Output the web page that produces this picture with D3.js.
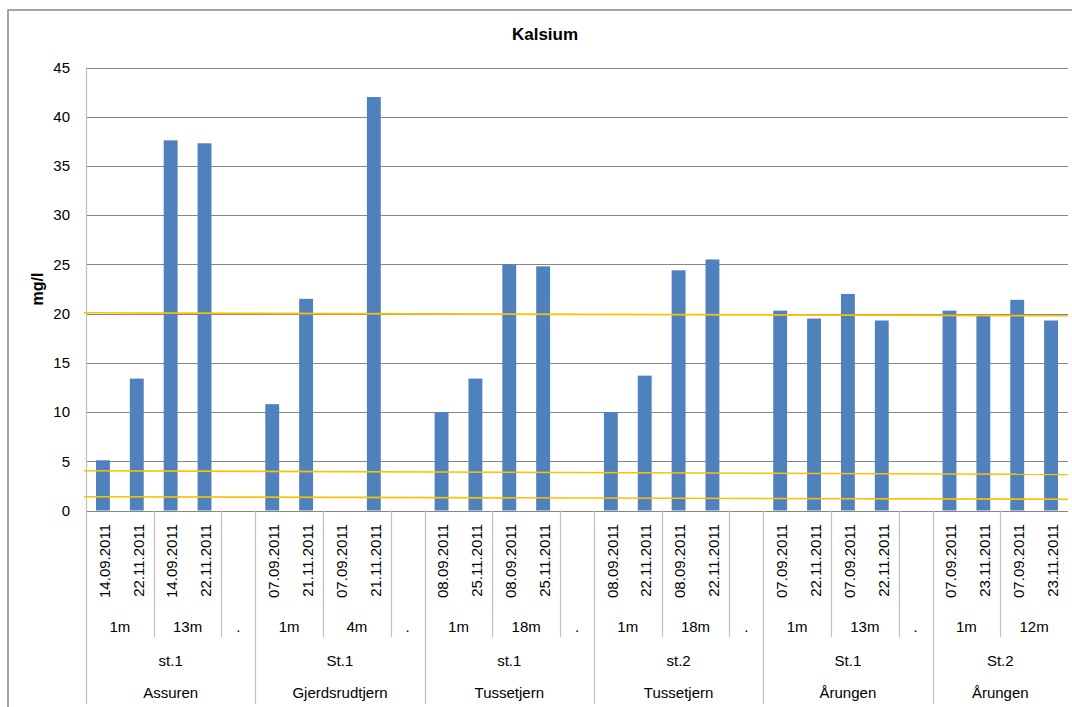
<!DOCTYPE html>
<html>
<head>
<meta charset="utf-8">
<script src="https://cdn.jsdelivr.net/npm/d3@7"></script>
<style>
  body { margin: 0; background: #fff; }
  svg { display: block; }
  text { font-family: "Liberation Sans", Arial, sans-serif; fill: #000; }
</style>
</head>
<body>
<svg id="chart" width="1072" height="707"></svg>
<script>
// ---- data ----
const dates = [
  "14.09.2011","22.11.2011","14.09.2011","22.11.2011","",
  "07.09.2011","21.11.2011","07.09.2011","21.11.2011","",
  "08.09.2011","25.11.2011","08.09.2011","25.11.2011","",
  "08.09.2011","22.11.2011","08.09.2011","22.11.2011","",
  "07.09.2011","22.11.2011","07.09.2011","22.11.2011","",
  "07.09.2011","23.11.2011","07.09.2011","23.11.2011"
];
const depths = [
  "1m","1m","13m","13m",".",
  "1m","1m","4m","4m",".",
  "1m","1m","18m","18m",".",
  "1m","1m","18m","18m",".",
  "1m","1m","13m","13m",".",
  "1m","1m","12m","12m"
];
const stations = [
  "st.1","st.1","st.1","st.1","st.1",
  "St.1","St.1","St.1","St.1","St.1",
  "st.1","st.1","st.1","st.1","st.1",
  "st.2","st.2","st.2","st.2","st.2",
  "St.1","St.1","St.1","St.1","St.1",
  "St.2","St.2","St.2","St.2"
];
const lakes = [
  "Assuren","Assuren","Assuren","Assuren","Assuren",
  "Gjerdsrudtjern","Gjerdsrudtjern","Gjerdsrudtjern","Gjerdsrudtjern","Gjerdsrudtjern",
  "Tussetjern","Tussetjern","Tussetjern","Tussetjern","Tussetjern",
  "Tussetjern","Tussetjern","Tussetjern","Tussetjern","Tussetjern",
  "Årungen","Årungen","Årungen","Årungen","Årungen",
  "Årungen","Årungen","Årungen","Årungen"
];
// station group id per slot (station+lake block)
const groupIds = [
  0,0,0,0,0, 1,1,1,1,1, 2,2,2,2,2, 3,3,3,3,3, 4,4,4,4,4, 5,5,5,5
];
const values = [
  5.1, 13.4, 37.6, 37.3, null,
  10.8, 21.5, null, 42.0, null,
  10.0, 13.4, 25.0, 24.8, null,
  10.0, 13.7, 24.4, 25.5, null,
  20.3, 19.5, 22.0, 19.3, null,
  20.3, 19.8, 21.4, 19.3
];
// reference lines: value at left edge and at right edge of plot
const refLineStart = [20.08, 4.04, 1.40];
const refLineEnd   = [19.78, 3.67, 1.14];
const yTicks = [0,5,10,15,20,25,30,35,40,45];
const title = "Kalsium";
const yTitle = "mg/l";

// ---- layout ----
const svg = d3.select("#chart");
const pLeft = 86, pRight = 1068, pTop = 67.5, pBottom = 510.5;
const n = dates.length;
const idx = d3.range(n);

const x = d3.scaleBand().domain(idx).range([pLeft, pRight]).paddingInner(0).paddingOuter(0);
const xLin = d3.scaleLinear().domain([0, n]).range([pLeft, pRight]);
const y = d3.scaleLinear().domain([0, 45]).range([pBottom, pTop]);

// outer border
svg.append("rect").attr("x", 8).attr("y", 10).attr("width", 1200).attr("height", 800)
  .attr("fill", "none").attr("stroke", "#868686").attr("stroke-width", 1.5);

// gridlines
svg.append("g").selectAll("line").data(yTicks).join("line")
  .attr("x1", pLeft).attr("x2", pRight)
  .attr("y1", d => Math.round(y(d)) + 0.5).attr("y2", d => Math.round(y(d)) + 0.5)
  .attr("stroke", "#868686").attr("stroke-width", 1);

// y axis labels
const yAxis = d3.axisLeft(y).tickValues(yTicks).tickSize(0).tickPadding(16);
const yg = svg.append("g").attr("transform", `translate(${pLeft},0)`).call(yAxis);
yg.select(".domain").remove();
yg.selectAll("text").style("font-family", '"Liberation Sans", Arial, sans-serif')
  .style("font-size", "15px").attr("fill", "#000");

// left axis line
svg.append("line").attr("x1", pLeft + 0.5).attr("x2", pLeft + 0.5)
  .attr("y1", pTop).attr("y2", 704).attr("stroke", "#BFBFBF").attr("stroke-width", 1.2);

// bars
const barW = x.bandwidth() * 0.41;
svg.append("g").selectAll("rect").data(idx.filter(i => values[i] != null)).join("rect")
  .attr("x", i => x(i) + (x.bandwidth() - barW) / 2)
  .attr("width", barW)
  .attr("y", i => y(values[i]))
  .attr("height", i => y(0) - y(values[i]))
  .attr("fill", "#4F81BD");

// reference lines
svg.append("g").selectAll("line").data(d3.range(refLineStart.length)).join("line")
  .attr("x1", xLin(0) - 2).attr("x2", xLin(n))
  .attr("y1", i => y(refLineStart[i])).attr("y2", i => y(refLineEnd[i]))
  .attr("stroke", "#FFC000").attr("stroke-width", 1.6);

// category labels: dates
svg.append("g").selectAll("text").data(idx.filter(i => dates[i])).join("text")
  .attr("transform", i => `translate(${x(i) + x.bandwidth() / 2 + 1.5},524) rotate(-90)`)
  .attr("text-anchor", "end").attr("dy", "0.35em")
  .style("font-size", "15px").text(i => dates[i]);

// group spans helper
function spans(keyFn) {
  const out = [];
  idx.forEach(i => {
    const k = keyFn(i);
    if (out.length && out[out.length - 1].key === k) out[out.length - 1].end = i;
    else out.push({ key: k, start: i, end: i });
  });
  return out;
}
const depthSpans = spans(i => groupIds[i] + "|" + depths[i]);
const groupSpans = spans(i => groupIds[i]);

// depth labels
svg.append("g").selectAll("text").data(depthSpans).join("text")
  .attr("x", d => (xLin(d.start) + xLin(d.end + 1)) / 2)
  .attr("y", 627).attr("dy", "0.35em").attr("text-anchor", "middle")
  .style("font-size", "15px").text(d => depths[d.start]);

// station labels
svg.append("g").selectAll("text").data(groupSpans).join("text")
  .attr("x", d => (xLin(d.start) + xLin(d.end + 1)) / 2)
  .attr("y", 661).attr("dy", "0.35em").attr("text-anchor", "middle")
  .style("font-size", "15px").text(d => stations[d.start]);

// lake labels
svg.append("g").selectAll("text").data(groupSpans).join("text")
  .attr("x", d => (xLin(d.start) + xLin(d.end + 1)) / 2)
  .attr("y", 693).attr("dy", "0.35em").attr("text-anchor", "middle")
  .style("font-size", "15px").text(d => lakes[d.start]);

// dividers between depth groups (short)
const groupStarts = new Set(groupSpans.map(d => d.start));
svg.append("g").selectAll("line").data(depthSpans.filter(d => d.start > 0 && !groupStarts.has(d.start))).join("line")
  .attr("x1", d => Math.round(xLin(d.start)) + 0.5).attr("x2", d => Math.round(xLin(d.start)) + 0.5)
  .attr("y1", pBottom).attr("y2", 637)
  .attr("stroke", "#BFBFBF").attr("stroke-width", 1.2);

// dividers between station groups (long)
svg.append("g").selectAll("line").data(groupSpans.filter(d => d.start > 0)).join("line")
  .attr("x1", d => Math.round(xLin(d.start)) + 0.5).attr("x2", d => Math.round(xLin(d.start)) + 0.5)
  .attr("y1", pBottom).attr("y2", 704)
  .attr("stroke", "#BFBFBF").attr("stroke-width", 1.2);

// title
svg.append("text").attr("x", 545).attr("y", 40).attr("text-anchor", "middle")
  .style("font-size", "17px").style("font-weight", "bold").text(title);

// y title
svg.append("text").attr("transform", `translate(37,${(pTop + pBottom) / 2}) rotate(-90)`)
  .attr("text-anchor", "middle").attr("dy", "0.35em")
  .style("font-size", "16px").style("font-weight", "bold").text(yTitle);
</script>
</body>
</html>
